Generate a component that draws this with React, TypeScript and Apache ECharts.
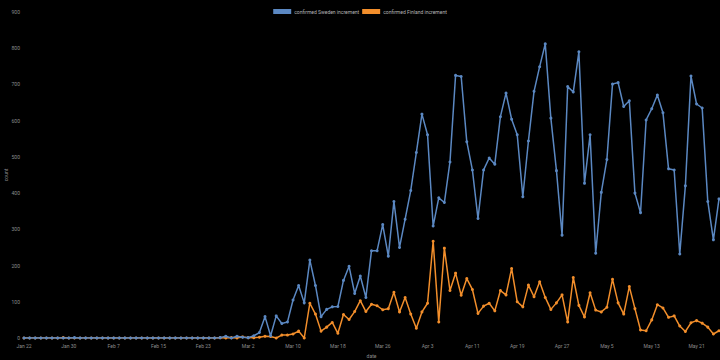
import React, { useEffect, useRef } from "react";
import * as echarts from "echarts";

const startDate = "2020-01-22";
const dayCount = 125;
const monthNames = ["Jan", "Feb", "Mar", "Apr", "May", "Jun", "Jul", "Aug", "Sep", "Oct", "Nov", "Dec"];

const swedenIncrement = [
  0, 0, 0, 0, 0, 0, 0, 0, 0, 1,
  0, 0, 0, 0, 0, 0, 0, 0, 0, 0,
  0, 0, 0, 0, 0, 0, 0, 0, 0, 0,
  0, 0, 0, 0, 0, 1, 5, 0, 5, 2,
  1, 6, 15, 59, 6, 61, 40, 44, 105, 145,
  97, 215, 145, 59, 79, 86, 87, 159, 198, 123,
  171, 112, 241, 241, 313, 226, 377, 250, 328, 407,
  512, 618, 561, 309, 387, 374, 486, 725, 722, 542,
  464, 330, 464, 497, 480, 611, 676, 604, 561, 390,
  544, 681, 749, 812, 607, 462, 284, 694, 679, 790,
  427, 561, 234, 402, 493, 701, 705, 639, 655, 400,
  346, 602, 633, 671, 622, 467, 464, 232, 420, 723,
  646, 635, 377, 271, 384,
];

const finlandIncrement = [
  0, 0, 0, 0, 0, 0, 0, 1, 0, 0,
  0, 0, 0, 0, 0, 0, 0, 0, 0, 0,
  0, 0, 0, 0, 0, 0, 0, 0, 0, 0,
  0, 0, 0, 0, 0, 1, 0, 1, 0, 3,
  1, 1, 2, 5, 4, 0, 8, 8, 11, 19,
  0, 96, 66, 19, 30, 43, 13, 65, 51, 73,
  103, 73, 93, 89, 78, 81, 126, 72, 112, 66,
  27, 72, 96, 267, 44, 248, 131, 179, 118, 164,
  134, 68, 88, 96, 75, 131, 119, 192, 100, 86,
  146, 114, 155, 112, 79, 97, 119, 44, 167, 90,
  58, 125, 77, 72, 85, 162, 97, 66, 142, 81,
  22, 20, 50, 92, 83, 57, 61, 33, 18, 42,
  48, 41, 30, 11, 20,
];

function buildDates(): string[] {
  const out: string[] = [];
  const d0 = new Date(startDate + "T00:00:00Z");
  for (let i = 0; i < dayCount; i++) {
    const d = new Date(d0.getTime() + i * 86400000);
    out.push(monthNames[d.getUTCMonth()] + " " + d.getUTCDate());
  }
  return out;
}

const dates = buildDates();

export default function App() {
  const ref = useRef<HTMLDivElement>(null);
  useEffect(() => {
    if (!ref.current) return;
    const chart = echarts.init(ref.current, undefined, { renderer: "svg" });
    const labelColor = "#8c8c8c";
    chart.setOption({
      animation: false,
      backgroundColor: "#000000",
      textStyle: { fontFamily: "Roboto, sans-serif" },
      legend: {
        left: "center",
        top: 4,
        icon: "rect",
        itemWidth: 18,
        itemHeight: 5,
        itemGap: 3,
        textStyle: { color: "#b4b4b4", fontSize: 5, padding: [0, 0, 0, -2] },
        data: ["confirmed Sweden increment", "confirmed Finland increment"],
      },
      grid: { left: 24, right: 1, top: 12, bottom: 22, containLabel: false, outerBoundsMode: "none" },
      xAxis: {
        type: "category",
        data: dates,
        boundaryGap: false,
        name: "date",
        nameLocation: "middle",
        nameGap: 15,
        nameMoveOverlap: false,
        nameTextStyle: { color: labelColor, fontSize: 5 },
        axisLine: { show: false },
        axisTick: { show: false },
        splitLine: { show: false },
        axisLabel: { interval: 7, color: labelColor, fontSize: 5, margin: 5 },
      },
      yAxis: {
        type: "value",
        min: 0,
        max: 900,
        interval: 100,
        name: "count",
        nameLocation: "middle",
        nameGap: 16,
        nameMoveOverlap: false,
        nameTextStyle: { color: labelColor, fontSize: 5 },
        axisLine: { show: false },
        axisTick: { show: false },
        splitLine: { show: false },
        axisLabel: { color: labelColor, fontSize: 5, margin: 4 },
      },
      series: [
        {
          name: "confirmed Sweden increment",
          type: "line",
          data: swedenIncrement,
          z: 3,
          color: "#5b88c2",
          symbol: "circle",
          symbolSize: 3,
          lineStyle: { width: 1.5, color: "#5b88c2" },
          itemStyle: { color: "#5b88c2" },
        },
        {
          name: "confirmed Finland increment",
          type: "line",
          data: finlandIncrement,
          z: 2,
          color: "#f28e2b",
          symbol: "circle",
          symbolSize: 3,
          lineStyle: { width: 1.5, color: "#f28e2b" },
          itemStyle: { color: "#f28e2b" },
        },
      ],
    });
    return () => chart.dispose();
  }, []);
  return (
    <div
      ref={ref}
      style={{ position: "fixed", left: 0, top: 0, width: 720, height: 360, background: "#000" }}
    />
  );
}
